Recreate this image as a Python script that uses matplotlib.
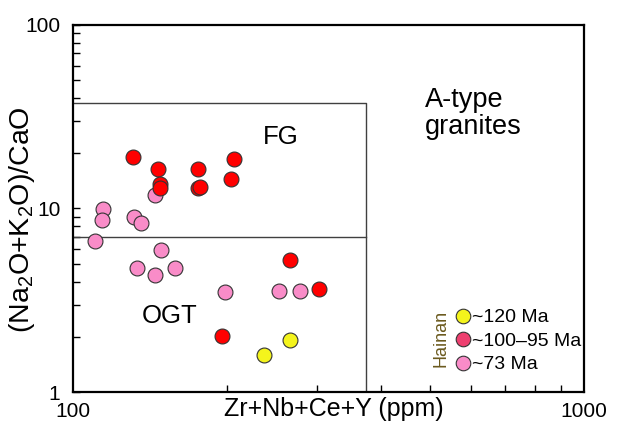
import matplotlib.pyplot as plt
from matplotlib.lines import Line2D

plt.rcParams['font.family'] = ['Liberation Sans', 'DejaVu Sans']
plt.rcParams['mathtext.fontset'] = 'custom'
plt.rcParams['mathtext.rm'] = 'Liberation Sans'
plt.rcParams['mathtext.it'] = 'Liberation Sans'

# Zr+Nb+Ce+Y (ppm) vs (Na2O+K2O)/CaO
x_120 = [236.8, 265.4]
y_120 = [1.585, 1.92]

x_100 = [131.4, 146.7, 147.8, 147.8, 175.9, 175.9, 177.0, 206.9, 203.8, 265.4, 303.0, 196.0]
y_100 = [19.0, 16.5, 13.6, 12.9, 16.5, 13.0, 13.1, 18.5, 14.5, 5.24, 3.63, 2.02]

x_73 = [114.8, 114.1, 110.7, 131.8, 136.0, 144.7, 148.7, 133.4, 144.7, 158.8, 198.1, 252.6, 278.5]
y_73 = [9.9, 8.66, 6.65, 8.99, 8.30, 11.85, 5.94, 4.76, 4.34, 4.76, 3.49, 3.55, 3.55]

# FG / OGT field boundaries
fg_x = 375
fg_top = 37.5
ogt_top = 7.0

legend_labels = ['~120 Ma', '~100\u201395 Ma', '~73 Ma']
legend_colors = ['#f4f41c', '#ee4070', '#f98cc8']

fig = plt.figure(figsize=(6.22, 4.29), dpi=100)
ax = fig.add_axes([0.117, 0.086, 0.822, 0.856])
ax.set_xscale('log')
ax.set_yscale('log')
ax.set_xlim(100, 1000)
ax.set_ylim(1, 100)

# field lines
ax.plot([100, fg_x, fg_x], [fg_top, fg_top, 1], color='#404040', lw=1.0)
ax.plot([100, fg_x], [ogt_top, ogt_top], color='#404040', lw=1.0)

ms = 115
ax.scatter(x_73, y_73, s=ms, c='#f98cc8', edgecolors='#333333', linewidths=0.8, zorder=3)
ax.scatter(x_100, y_100, s=ms, c='#ff0000', edgecolors='#333333', linewidths=0.8, zorder=3)
ax.scatter(x_120, y_120, s=ms, c='#f4f41c', edgecolors='#333333', linewidths=0.8, zorder=3)

ax.text(255, 24.6, 'FG', fontsize=18.5, ha='center', va='center')
ax.text(155, 2.59, 'OGT', fontsize=18.5, ha='center', va='center')
ax.text(489, 33.1, 'A-type\ngranites', fontsize=19.5, ha='left', va='center', linespacing=1.05)
ax.text(526, 1.97, 'Hainan', fontsize=13, rotation=90, ha='center', va='center', color='#6b5a1e')

handles = [Line2D([], [], marker='o', ls='', markersize=10.5, markerfacecolor=c,
                  markeredgecolor='#333333', markeredgewidth=0.8) for c in legend_colors]
ax.legend(handles, legend_labels, loc='lower left', bbox_to_anchor=(0.732, 0.03),
          frameon=False, fontsize=14, handlelength=0.8, handletextpad=0.1,
          labelspacing=0.3, borderaxespad=0)

for s in ax.spines.values():
    s.set_linewidth(1.6)
ax.tick_params(which='both', direction='in', top=False, right=False, labelsize=15)
ax.tick_params(which='major', length=0)
ax.tick_params(which='minor', length=5, width=1.0)
ax.set_xticks([100, 1000])
ax.set_xticklabels(['100', '1000'])
ax.set_yticks([1, 10, 100])
ax.set_yticklabels(['1', '10', '100'])
ax.tick_params(axis='y', which='major', length=5, width=1.0, pad=9)
ax.tick_params(axis='x', which='major', pad=7)
ax.xaxis.set_minor_formatter(plt.NullFormatter())
ax.yaxis.set_minor_formatter(plt.NullFormatter())

ax.set_xlabel('Zr+Nb+Ce+Y (ppm)', fontsize=18)
ax.xaxis.set_label_coords(0.51, -0.012)
ax.set_ylabel('(Na$_2$O+K$_2$O)/CaO', fontsize=20.5)
ax.yaxis.set_label_coords(-0.07, 0.47)

fig.savefig('out.png', dpi=100)
